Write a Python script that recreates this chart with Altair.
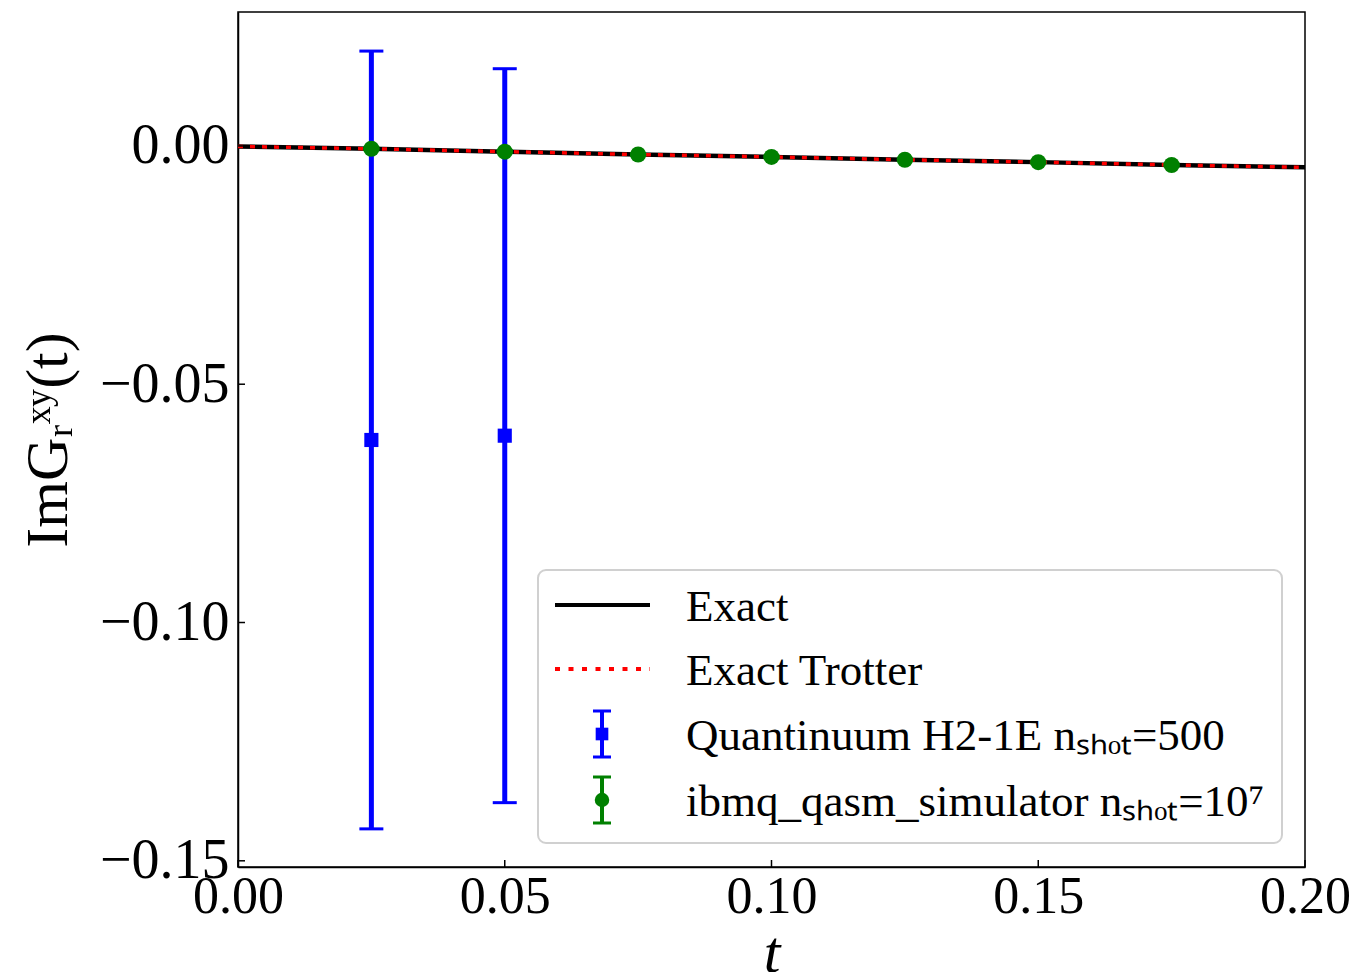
import altair as alt
import pandas as pd

# ---- data ----
t_exact = [0.0, 0.025, 0.05, 0.075, 0.1, 0.125, 0.15, 0.175, 0.2]
y_exact = [-0.0001, -0.0006, -0.0012, -0.0018, -0.0023, -0.0029, -0.0034, -0.0040, -0.0045]
y_trotter = [-0.0001, -0.0006, -0.0012, -0.0018, -0.0023, -0.0029, -0.0034, -0.0040, -0.0045]

t_quant = [0.025, 0.05]
y_quant = [-0.0617, -0.0608]
err_quant = [0.0816, 0.0770]

t_sim = [0.025, 0.05, 0.075, 0.1, 0.125, 0.15, 0.175]
y_sim = [-0.0006, -0.0012, -0.0018, -0.0023, -0.0029, -0.0034, -0.0040]
err_sim = [0.0002, 0.0002, 0.0002, 0.0002, 0.0002, 0.0002, 0.0002]

series = ["Exact", "Exact Trotter",
          "Quantinuum H2-1E nₛₕₒₜ=500",
          "ibmq_qasm_simulator nₛₕₒₜ=10⁷"]
colors = ["#000000", "#ff0000", "#0000ff", "#008000"]

x_ticks = [0.0, 0.05, 0.1, 0.15, 0.2]
y_ticks = [-0.15, -0.10, -0.05, 0.0]
x_domain = [0.0, 0.2]
y_domain = [-0.1513, 0.0281]

FONT = "Liberation Serif"

df_exact = pd.DataFrame({"t": t_exact, "y": y_exact, "series": series[0]})
df_trot = pd.DataFrame({"t": t_exact, "y": y_trotter, "series": series[1]})
df_q = pd.DataFrame({"t": t_quant, "y": y_quant, "series": series[2]})
df_q["lo"] = df_q["y"] - pd.Series(err_quant)
df_q["hi"] = df_q["y"] + pd.Series(err_quant)
df_s = pd.DataFrame({"t": t_sim, "y": y_sim, "series": series[3]})
df_s["lo"] = df_s["y"] - pd.Series(err_sim)
df_s["hi"] = df_s["y"] + pd.Series(err_sim)
df_xt = pd.DataFrame({"t": x_ticks, "y": y_domain[0]})
df_yt = pd.DataFrame({"t": x_domain[0], "y": y_ticks})
one = pd.DataFrame({"k": [0]})

xscale = alt.Scale(domain=x_domain, nice=False, zero=False)
yscale = alt.Scale(domain=y_domain, nice=False, zero=False)
cscale = alt.Scale(domain=series, range=colors)

xaxis = alt.Axis(values=x_ticks, format=".2f", title="t", grid=False,
                 ticks=False, labelPadding=4, labelFlush=False, labelFontSize=52,
                 titleFontStyle="italic", titlePadding=2)
yaxis = alt.Axis(values=y_ticks, format=".2f", title="ImGᵣˣʸ(t)", grid=False,
                 ticks=False, labelPadding=9, labelFontSize=56, titlePadding=20)

X = alt.X("t:Q", scale=xscale, axis=xaxis)
Y = alt.Y("y:Q", scale=yscale, axis=yaxis)
C = alt.Color("series:N", scale=cscale, legend=None)

# inward tick marks
xt = alt.Chart(df_xt).mark_point(shape="M0,0V-1", size=196, filled=False,
                                 strokeWidth=1.5, color="black", opacity=1).encode(x=X, y=Y)
yt = alt.Chart(df_yt).mark_point(shape="M0,0H1", size=196, filled=False,
                                 strokeWidth=1.5, color="black", opacity=1).encode(x=X, y=Y)

exact = alt.Chart(df_exact).mark_line(strokeWidth=4.5, clip=True).encode(x=X, y=Y, color=C)
trot = alt.Chart(df_trot).mark_line(strokeWidth=3.5, strokeDash=[5, 7], clip=True).encode(
    x=X, y=Y, color=C)

def errbars(df, width, cap):
    rule = alt.Chart(df).mark_rule(strokeWidth=width).encode(
        x=X, y=alt.Y("lo:Q", scale=yscale), y2="hi:Q", color=C)
    cap_lo = alt.Chart(df).mark_point(shape="M-1,0H1", size=cap * cap, filled=False,
                                      strokeWidth=3, opacity=1).encode(
        x=X, y=alt.Y("lo:Q", scale=yscale), color=C)
    cap_hi = alt.Chart(df).mark_point(shape="M-1,0H1", size=cap * cap, filled=False,
                                      strokeWidth=3, opacity=1).encode(
        x=X, y=alt.Y("hi:Q", scale=yscale), color=C)
    return [rule, cap_lo, cap_hi]

q_pts = alt.Chart(df_q).mark_square(size=200, opacity=1).encode(x=X, y=Y, color=C)
s_pts = alt.Chart(df_s).mark_circle(size=256, opacity=1).encode(x=X, y=Y, color=C)

# ---- legend (guide drawn in the plot's pixel frame) ----
LX0, LX1, LY0, LY1 = 300, 1044, 558, 831
rows = [593, 657, 722, 788]
sym_x0, sym_x1, sym_c = 317, 412, 364
lab_x = 448

leg = [alt.Chart(one).mark_rect(fill="white", stroke="#cccccc", strokeWidth=2,
                                cornerRadius=8, opacity=0.9).encode(
    x=alt.value(LX0), x2=alt.value(LX1), y=alt.value(LY0), y2=alt.value(LY1))]
leg.append(alt.Chart(one).mark_rule(color=colors[0], strokeWidth=4).encode(
    x=alt.value(sym_x0), x2=alt.value(sym_x1), y=alt.value(rows[0])))
leg.append(alt.Chart(one).mark_rule(color=colors[1], strokeWidth=4, strokeDash=[5, 8.5]).encode(
    x=alt.value(sym_x0), x2=alt.value(sym_x1), y=alt.value(rows[1])))
for i, mk in ((2, "square"), (3, "circle")):
    r = rows[i]
    leg.append(alt.Chart(one).mark_rule(color=colors[i], strokeWidth=4).encode(
        x=alt.value(sym_c), y=alt.value(r - 23), y2=alt.value(r + 23)))
    for dy in (-23, 23):
        leg.append(alt.Chart(one).mark_rule(color=colors[i], strokeWidth=3).encode(
            x=alt.value(sym_c - 9), x2=alt.value(sym_c + 9), y=alt.value(r + dy)))
    leg.append(alt.Chart(one).mark_point(shape=mk, filled=True, size=160 if mk == "square" else 210,
                                         color=colors[i], opacity=1).encode(
        x=alt.value(sym_c), y=alt.value(r)))
for i, name in enumerate(series):
    leg.append(alt.Chart(one).mark_text(text=name, font=FONT, fontSize=45, color="black",
                                        align="left", baseline="middle").encode(
        x=alt.value(lab_x), y=alt.value(rows[i] + 2)))

layers = [exact, trot] + errbars(df_q, 5, 24) + [q_pts] + errbars(df_s, 2, 16) + [s_pts, xt, yt] + leg

chart = alt.layer(*layers).properties(
    width=1067, height=855,
    autosize=alt.AutoSizeParams(type="none"),
    padding={"left": 230, "top": 4, "right": 45, "bottom": 105},
).configure_view(
    stroke="black", strokeWidth=1.5
).configure_axis(
    labelFont=FONT, titleFont=FONT, titleFontSize=60,
    labelColor="black", titleColor="black", titleFontWeight="normal",
    domainColor="black", domainWidth=1.5,
)

chart.save("out.html", embed_options={"renderer": "svg", "actions": False})
